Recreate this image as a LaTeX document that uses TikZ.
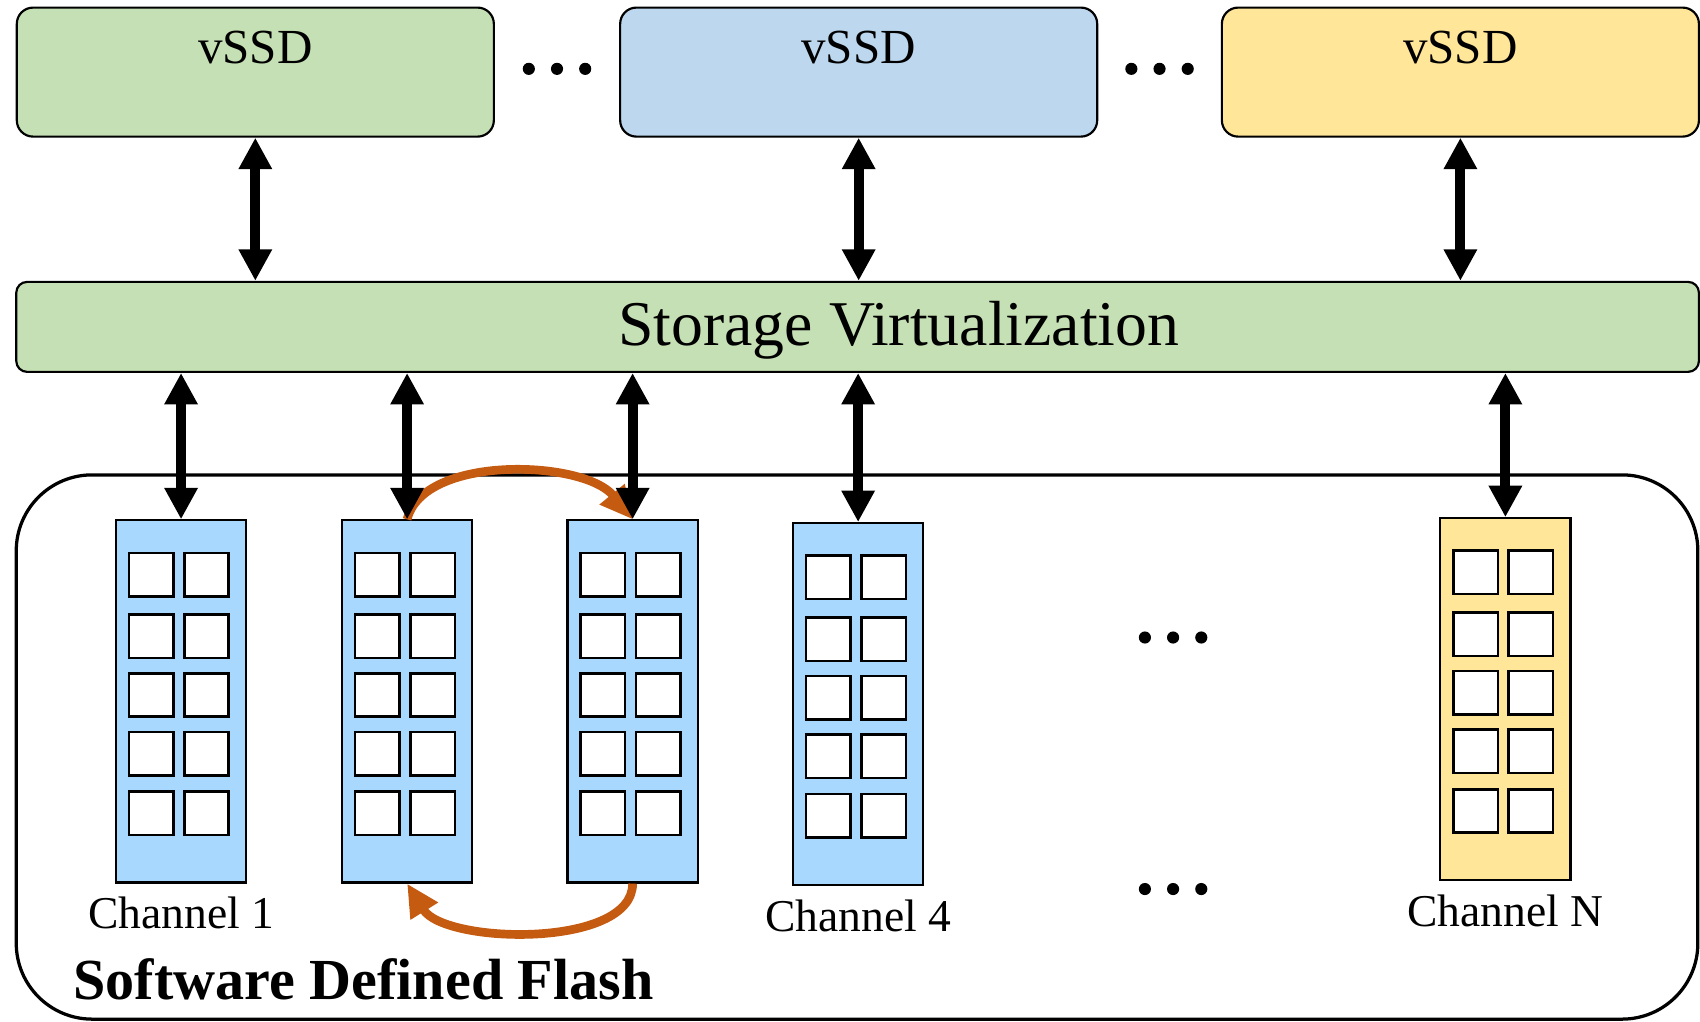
\documentclass[tikz,border=0pt]{standalone}
\usepackage{fontspec}
\setmainfont{Liberation Serif}
\usetikzlibrary{arrows.meta,calc,positioning}
\definecolor{VsGreen}{rgb}{0.773,0.878,0.706}
\definecolor{VsBlue}{rgb}{0.741,0.843,0.933}
\definecolor{VsYellow}{rgb}{1,0.902,0.6}
\definecolor{ChBlue}{rgb}{0.663,0.847,1}
\definecolor{MoveClr}{rgb}{0.773,0.353,0.067}

\begin{document}
\begin{tikzpicture}[x=0.5pt,y=-0.5pt,
  vssd/.style={draw,line width=1pt,rounded corners=7.5pt,minimum width=220pt,minimum height=59.5pt,inner sep=0pt},
  vtext/.style={anchor=north,inner sep=0pt,yshift=-11pt,font=\fontsize{22.6}{26}\selectfont},
  layer/.style={draw,line width=1pt,rounded corners=5pt,fill=VsGreen,minimum width=776pt,minimum height=41.5pt,inner sep=0pt},
  svtext/.style={inner sep=0pt,xshift=19pt,yshift=-1.5pt,font=\fontsize{29.4}{33}\selectfont},
  chan/.style={draw,line width=1pt,fill=ChBlue,minimum width=60pt,minimum height=167pt,inner sep=0pt},
  chtext/.style={inner sep=0pt,yshift=-6pt,font=\fontsize{21}{24}\selectfont},
  cell/.style={draw,line width=1.2pt,fill=white},
  io/.style={{Triangle[length=14.5pt,width=14.5pt]}-{Triangle[length=14.5pt,width=14.5pt]},line width=4.6pt},
  migrate/.style={-{Triangle[length=15pt,width=14pt]},line width=4pt,color=MoveClr}]

\useasboundingbox (0,0) rectangle (1568,942);

\node[vssd,fill=VsGreen,label={[vtext]north:vSSD}] (v1) at (235.5,66.5) {};
\node[vssd,fill=VsBlue,label={[vtext]north:vSSD}] (v2) at (792,66.5) {};
\node[vssd,fill=VsYellow,label={[vtext]north:vSSD}] (v3) at (1347,66.5) {};

\node[layer,label={[svtext]center:Storage Virtualization}] (sv) at (791,301.5) {};

\node[draw,line width=1.5pt,rounded corners=35pt,minimum width=775.5pt,minimum height=251pt] (fl) at (790.5,689) {};

\node[chan,label={[chtext]below:Channel 1}] (c1) at (167,647) {};
\node[chan] (c2) at (375.5,647) {};
\node[chan] (c3) at (583.5,647) {};
\node[chan,label={[chtext]below:Channel 4}] (c4) at (791.5,649.5) {};
\node[chan,fill=VsYellow,label={[chtext]below:Channel N}] (cN) at (1388.5,645) {};

\foreach \c in {c1,c2,c3,c4,cN}
  \foreach \r in {31,88,142,196,251}
    \foreach \k in {13,64}
      \draw[cell] ($(\c.north west)+(\k,\r)$) rectangle +(41,40);

\node[font=\bfseries\fontsize{26.8}{30}\selectfont,anchor=west,inner sep=0pt] (sdf) at ($(fl.south west)+(54,-38)$) {Software Defined Flash};

\foreach \dx in {-26,0,26} {
  \fill ($(v1.east)!.5!(v2.west)+(\dx,-3)$) circle (2.8pt);
  \fill ($(v2.east)!.5!(v3.west)+(\dx,-3)$) circle (2.8pt);
  \fill (1082+\dx,588) circle (2.8pt);
  \fill (1082+\dx,820) circle (2.8pt);
}

\draw[migrate] (c2.north) .. controls +(15,-60) and +(-45,-55) .. (c3.north);
\draw[migrate] (c3.south) .. controls +(0,60) and +(35,56) .. (c2.south);

\foreach \v in {v1,v2,v3}
  \draw[io] (\v.south) -- (\v.south |- sv.north);
\foreach \c in {c1,c2,c3,c4,cN}
  \draw[io] (sv.south -| \c.north) -- (\c.north);

\end{tikzpicture}
\end{document}
